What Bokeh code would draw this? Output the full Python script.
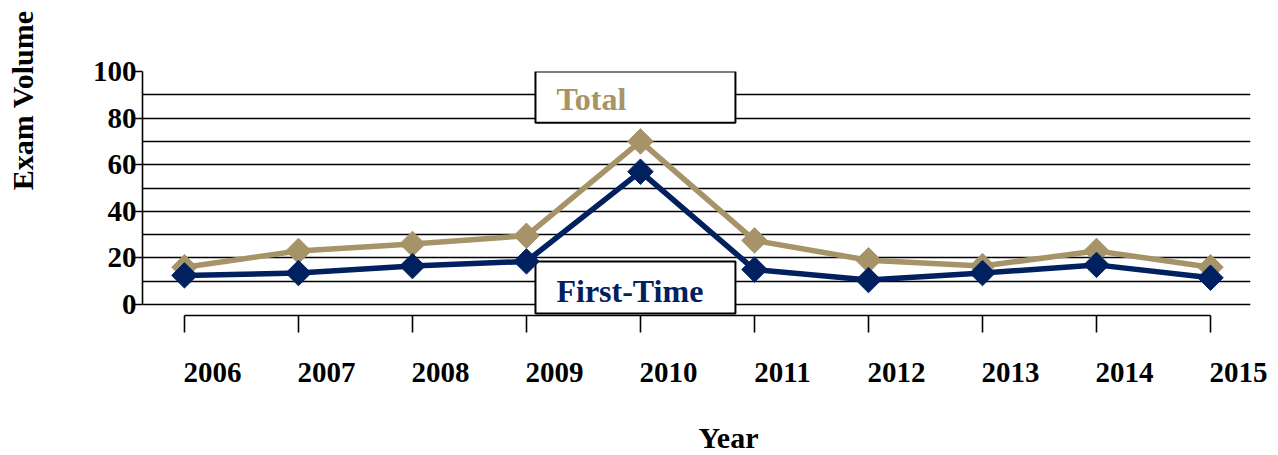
from bokeh.plotting import figure
from bokeh.models import (ColumnDataSource, FixedTicker, Range1d, Label, Title,
                          BoxAnnotation, LinearAxis, CustomLabelingPolicy)
from bokeh.embed import file_html
from bokeh.resources import INLINE
import math

years = [2006, 2007, 2008, 2009, 2010, 2011, 2012, 2013, 2014, 2015]
total = [16, 23, 26, 29.5, 70, 27.5, 19, 16.5, 23, 16]
first_time = [12.5, 13.5, 16.5, 18.5, 57, 15, 10.5, 13.5, 17, 11.5]
y_ticks = [0, 20, 40, 60, 80, 100]
grid_ticks = [0, 10, 20, 30, 40, 50, 60, 70, 80, 90, 100]

TAN = "#A69468"
NAVY = "#002060"
FONT = "Liberation Serif"

X0, X1 = 2005.632, 2015.351
LBL_SHIFT = 0.246  # year labels sit to the right of their tick

HIDE = "for (const i of Array.from(indices)) { indices.unset(i) } return indices"

src = ColumnDataSource(dict(year=years, total=total, first=first_time))

p = figure(width=1278, height=455, output_backend="svg", toolbar_location=None,
           x_range=Range1d(X0, X1), y_range=Range1d(-4.72, 100),
           min_border_left=142, min_border_top=71, min_border_bottom=140,
           min_border_right=28)
p.title.visible = False
p.outline_line_color = None
p.extra_x_ranges = {"lbl": Range1d(X0 - LBL_SHIFT, X1 - LBL_SHIFT)}

# grid
p.xgrid.visible = False
p.ygrid.ticker = FixedTicker(ticks=grid_ticks)
p.ygrid.grid_line_color = "black"
p.ygrid.grid_line_width = 1.6
p.ygrid.level = "image"

# y axis
ya = p.yaxis[0]
ya.ticker = FixedTicker(ticks=y_ticks)
ya.bounds = (0, 100)
ya.axis_line_color = "black"
ya.axis_line_width = 1.6
ya.major_tick_out = 10
ya.major_tick_in = 0
ya.major_tick_line_width = 1.6
ya.minor_tick_line_color = None
ya.major_label_text_font = FONT
ya.major_label_text_font_style = "bold"
ya.major_label_text_font_size = "29px"
ya.major_label_text_color = "black"
ya.major_label_standoff = -4


def spacer(size, ticks, **kw):
    # invisible axis that only reserves room in a side panel
    ax = LinearAxis(ticker=FixedTicker(ticks=ticks), **kw)
    ax.axis_line_color = None
    ax.major_tick_line_color = None
    ax.minor_tick_line_color = None
    ax.major_tick_out = size
    ax.major_tick_in = 0
    ax.major_label_text_font_size = "0px"
    ax.major_label_standoff = 0
    ax.major_label_policy = CustomLabelingPolicy(code=HIDE)
    return ax


p.add_layout(spacer(51, y_ticks), "left")
p.add_layout(Title(text="Exam Volume", text_font=FONT, text_font_style="bold",
                   text_font_size="30px", text_color="black", align="right",
                   offset=-61, standoff=0), "left")

# x axis: bracket with ticks only
xa = p.xaxis[0]
xa.ticker = FixedTicker(ticks=years)
xa.bounds = (2006, 2015)
xa.axis_line_color = "black"
xa.axis_line_width = 1.6
xa.major_tick_out = 17
xa.major_tick_in = 0
xa.major_tick_line_width = 1.6
xa.minor_tick_line_color = None
xa.major_label_text_font_size = "0px"
xa.major_label_standoff = 0
xa.major_label_policy = CustomLabelingPolicy(code=HIDE)

# x axis: year labels (offset to the right of ticks)
xl = LinearAxis(x_range_name="lbl", ticker=FixedTicker(ticks=years))
xl.axis_line_color = None
xl.major_tick_line_color = None
xl.minor_tick_line_color = None
xl.major_tick_out = 0
xl.major_tick_in = 0
xl.major_label_text_font = FONT
xl.major_label_text_font_style = "bold"
xl.major_label_text_font_size = "29px"
xl.major_label_text_color = "black"
xl.major_label_standoff = 30
p.add_layout(xl, "below")

p.add_layout(spacer(34, years, x_range_name="lbl"), "below")
p.add_layout(Title(text="Year", text_font=FONT, text_font_style="bold",
                   text_font_size="30px", text_color="black", align="left",
                   offset=556, standoff=0), "below")

# series labels boxes
p.add_layout(BoxAnnotation(left=2009.079, right=2010.833, top=100, bottom=78.0,
                           fill_color="white", fill_alpha=1, line_color="black",
                           line_alpha=1, line_width=2, level="underlay"))
p.add_layout(BoxAnnotation(left=2009.079, right=2010.833, top=18.43, bottom=-3.86,
                           fill_color="white", fill_alpha=1, line_color="black",
                           line_alpha=1, line_width=2, level="underlay"))

# lines
p.line("year", "total", source=src, line_color=TAN, line_width=5.5)
p.scatter("year", "total", source=src, marker="square", size=18,
          angle=math.pi / 4, fill_color=TAN, line_color=TAN)
p.line("year", "first", source=src, line_color=NAVY, line_width=5.5)
p.scatter("year", "first", source=src, marker="square", size=18,
          angle=math.pi / 4, fill_color=NAVY, line_color=NAVY)

p.add_layout(Label(x=2009.263, y=88.3, text="Total", text_font=FONT,
                   text_font_style="bold", text_font_size="32px",
                   text_color=TAN, text_baseline="alphabetic"))
p.add_layout(Label(x=2009.263, y=5.9, text="First-Time", text_font=FONT,
                   text_font_style="bold", text_font_size="32px",
                   text_color=NAVY, text_baseline="alphabetic"))

open("out.html", "w").write(file_html(p, INLINE))
